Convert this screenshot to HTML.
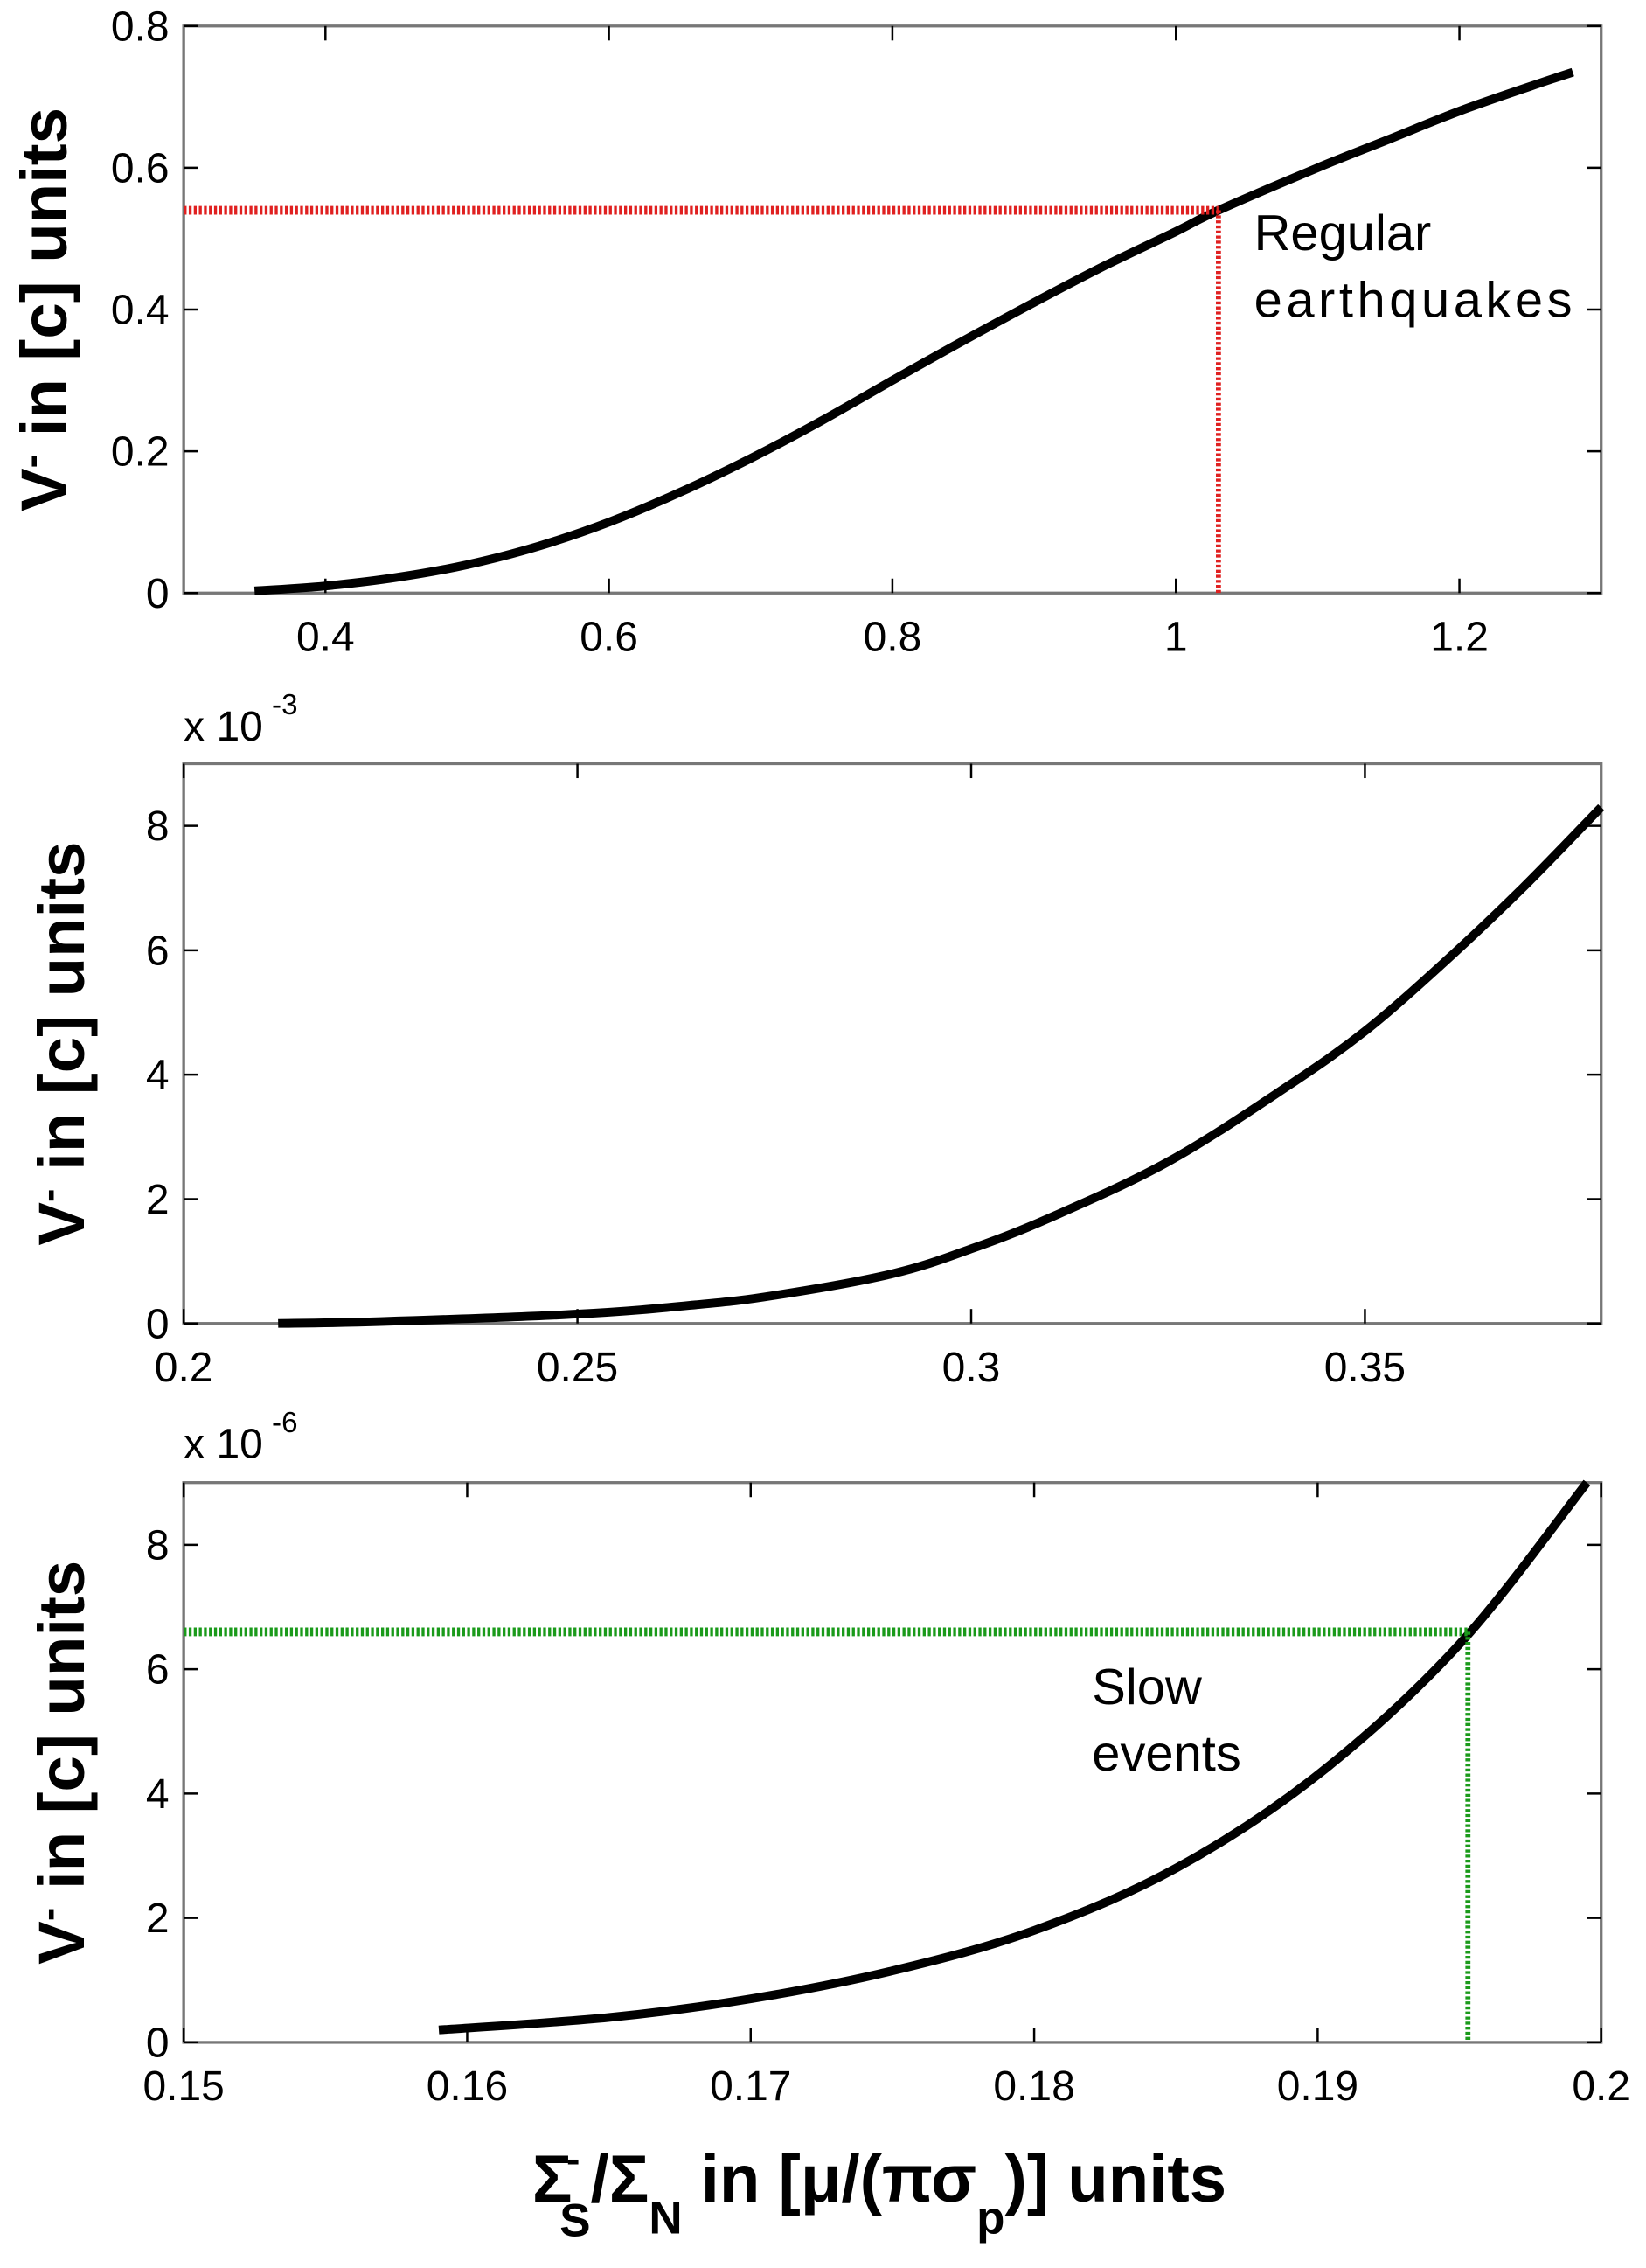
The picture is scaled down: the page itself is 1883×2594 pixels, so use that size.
<!DOCTYPE html>
<html><head><meta charset="utf-8"><style>
html,body{margin:0;padding:0;background:#fff;}
svg{display:block;}
text{font-family:"Liberation Sans",Arial,sans-serif;}
</style></head><body>
<svg id="chart" width="1883" height="2594" viewBox="0 0 1138 1568" preserveAspectRatio="none" xmlns="http://www.w3.org/2000/svg">
<g id="root"></g>
</svg>
<script>
// Panel 1 data
const p1X = [0.35, 0.4, 0.45, 0.5, 0.55, 0.6, 0.65, 0.7, 0.75, 0.8, 0.85, 0.9, 0.95, 1.0, 1.03, 1.1, 1.15, 1.2, 1.25, 1.28];
const p1Y = [0.003, 0.01, 0.022, 0.04, 0.066, 0.1, 0.142, 0.19, 0.243, 0.3, 0.356, 0.41, 0.462, 0.51, 0.54, 0.6, 0.64, 0.68, 0.715, 0.735];
const p1XTicks = [0.4, 0.6, 0.8, 1, 1.2];
const p1YTicks = [0, 0.2, 0.4, 0.6, 0.8];
const p1Marker = [1.03, 0.54];
// Panel 2 data (x 10^-3)
const p2X = [0.212, 0.225, 0.25, 0.265, 0.275, 0.29, 0.3, 0.31, 0.325, 0.34, 0.35, 0.36, 0.37, 0.38];
const p2Y = [0.0, 0.03, 0.15, 0.3, 0.45, 0.8, 1.2, 1.7, 2.6, 3.8, 4.7, 5.8, 7.0, 8.3];
const p2XTicks = [0.2, 0.25, 0.3, 0.35];
const p2YTicks = [0, 2, 4, 6, 8];
// Panel 3 data (x 10^-6)
const p3X = [0.159, 0.165, 0.17, 0.175, 0.18, 0.185, 0.19, 0.195, 0.1995];
const p3Y = [0.2, 0.4, 0.7, 1.15, 1.8, 2.8, 4.3, 6.4, 9.0];
const p3XTicks = [0.15, 0.16, 0.17, 0.18, 0.19, 0.2];
const p3YTicks = [0, 2, 4, 6, 8];
const p3Marker = [0.1953, 6.6];

const NS = "http://www.w3.org/2000/svg";
const root = document.getElementById('root');
function mk(tag, attrs, parent, txt){
  const e = document.createElementNS(NS, tag);
  for (const k in attrs) e.setAttribute(k, attrs[k]);
  if (txt !== undefined) e.textContent = txt;
  (parent || root).appendChild(e);
  return e;
}
function smoothPath(pts){
  let d = 'M' + pts[0][0].toFixed(1) + ',' + pts[0][1].toFixed(1);
  for (let i = 0; i < pts.length - 1; i++){
    const p0 = pts[Math.max(0, i-1)], p1 = pts[i], p2 = pts[i+1], p3 = pts[Math.min(pts.length-1, i+2)];
    const c1x = p1[0] + (p2[0]-p0[0])/6, c1y = p1[1] + (p2[1]-p0[1])/6;
    const c2x = p2[0] - (p3[0]-p1[0])/6, c2y = p2[1] - (p3[1]-p1[1])/6;
    d += ' C' + c1x.toFixed(1) + ',' + c1y.toFixed(1) + ' ' + c2x.toFixed(1) + ',' + c2y.toFixed(1) + ' ' + p2[0].toFixed(1) + ',' + p2[1].toFixed(1);
  }
  return d;
}
function panel(name, L, R, T, B, xmin, xmax, ymin, ymax, xs, ys, xt, yt, fmtY, ytx){
  const g = mk('g', {});
  
  
  const sx = v => L + (v - xmin) / (xmax - xmin) * (R - L);
  const sy = v => B - (v - ymin) / (ymax - ymin) * (B - T);
  const fr = mk('rect', {x:L, y:T, width:R-L, height:B-T, fill:'none', stroke:'#777', 'stroke-width':2}, g);
  
  
  xt.forEach(v => {
    const x = sx(v);
    mk('line', {x1:x, y1:B, x2:x, y2:B-10, stroke:'#000', 'stroke-width':1.5}, g);
    mk('line', {x1:x, y1:T, x2:x, y2:T+10, stroke:'#000', 'stroke-width':1.5}, g);
    const t = mk('text', {x:x, y:B+40, 'font-size':29, 'text-anchor':'middle'}, g, String(v));
    
    
  });
  yt.forEach(v => {
    const y = sy(v);
    mk('line', {x1:L, y1:y, x2:L+10, y2:y, stroke:'#000', 'stroke-width':1.5}, g);
    mk('line', {x1:R, y1:y, x2:R-10, y2:y, stroke:'#000', 'stroke-width':1.5}, g);
    const t = mk('text', {x:L-10, y:y+10, 'font-size':29, 'text-anchor':'end'}, g, fmtY(v));
    
    
  });
  const pts = xs.map((v,i) => [sx(v), sy(ys[i])]);
  const c = mk('path', {d:smoothPath(pts), fill:'none', stroke:'#000', 'stroke-width':6, 'stroke-linecap':'butt', 'stroke-linejoin':'round'}, g);
  
  
  const yl = mk('text', {x:0, y:0, 'font-size':45, 'font-weight':'bold', 'text-anchor':'middle', transform:'translate('+ytx+','+((T+B)/2)+') rotate(-90)'}, g);
  
  
  mk('tspan', {}, yl, 'V');
  mk('tspan', {dy:-15, 'font-size':28}, yl, '-');
  mk('tspan', {dy:15}, yl, ' in [c] units');
  return {g, sx, sy};
}
// Panel 1
const a = panel('panel-regular', 127, 1107, 18, 410, 0.3, 1.3, 0, 0.8, p1X, p1Y, p1XTicks, p1YTicks, v => String(v), 46);
const r1 = mk('path', {d:'M'+a.sx(0.3)+','+a.sy(p1Marker[1])+' L'+a.sx(p1Marker[0])+','+a.sy(p1Marker[1]), stroke:'#e02020', 'stroke-width':6, 'stroke-dasharray':'2,1.5', fill:'none'}, a.g);


const r2 = mk('path', {d:'M'+a.sx(p1Marker[0])+','+a.sy(p1Marker[1])+' L'+a.sx(p1Marker[0])+','+a.sy(0), stroke:'#e02020', 'stroke-width':3.5, 'stroke-dasharray':'2,1.5', fill:'none'}, a.g);


const ann1 = mk('text', {x:867, y:173, 'font-size':35}, a.g, 'Regular');


const ann1b = mk('text', {x:867, y:219, 'font-size':35, textLength:220}, a.g, 'earthquakes');


// Panel 2
const b = panel('panel-middle', 127, 1107, 528, 915, 0.2, 0.38, 0, 9, p2X, p2Y, p2XTicks, p2YTicks, v => String(v), 58);
const m2 = mk('text', {x:127, y:512, 'font-size':29}, b.g, 'x 10');


mk('text', {x:188, y:494, 'font-size':20}, b.g, '-3');
// Panel 3
const c = panel('panel-slow', 127, 1107, 1025, 1412, 0.15, 0.2, 0, 9, p3X, p3Y, p3XTicks, p3YTicks, v => String(v), 58);
const m3 = mk('text', {x:127, y:1008, 'font-size':29}, c.g, 'x 10');


mk('text', {x:188, y:990, 'font-size':20}, c.g, '-6');
const g1 = mk('path', {d:'M'+c.sx(0.15)+','+c.sy(p3Marker[1])+' L'+c.sx(p3Marker[0])+','+c.sy(p3Marker[1]), stroke:'#1a9a1a', 'stroke-width':6, 'stroke-dasharray':'2,1.5', fill:'none'}, c.g);


const g2 = mk('path', {d:'M'+c.sx(p3Marker[0])+','+c.sy(p3Marker[1])+' L'+c.sx(p3Marker[0])+','+c.sy(0), stroke:'#1a9a1a', 'stroke-width':3.5, 'stroke-dasharray':'2,1.5', fill:'none'}, c.g);


const ann3 = mk('text', {x:755, y:1178, 'font-size':35}, c.g, 'Slow');


const ann3b = mk('text', {x:755, y:1224, 'font-size':35}, c.g, 'events');


// X axis title
const xl = mk('text', {x:368, y:1522, 'font-size':46, 'font-weight':'bold'});


mk('tspan', {}, xl, 'Σ');
mk('tspan', {dy:-20, dx:-4, 'font-size':28}, xl, '-');
mk('tspan', {dy:44, dx:-14, 'font-size':32}, xl, 'S');
mk('tspan', {dy:-24}, xl, '/Σ');
mk('tspan', {dy:22, 'font-size':32}, xl, 'N');
mk('tspan', {dy:-22}, xl, ' in [μ/(πσ');
mk('tspan', {dy:22, 'font-size':32}, xl, 'p');
mk('tspan', {dy:-22}, xl, ')] units');
</script>
</body></html>
